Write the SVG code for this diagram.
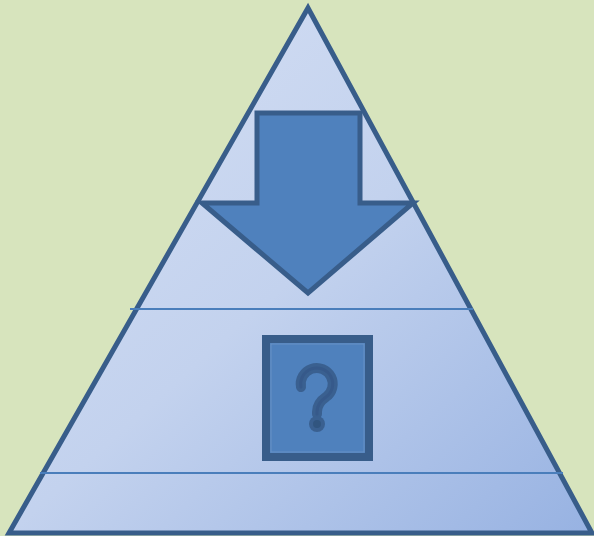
<svg xmlns="http://www.w3.org/2000/svg" width="594" height="536" viewBox="0 0 594 536">
<defs>
<linearGradient id="g" x1="0" y1="0" x2="1" y2="1" gradientUnits="objectBoundingBox">
<stop offset="0" stop-color="#D6E0F4"/>
<stop offset="0.5" stop-color="#C3D2EE"/>
<stop offset="1" stop-color="#97B2E2"/>
</linearGradient>
<style>
.edge{stroke:#385D8A;stroke-width:5;stroke-linejoin:miter}
.sep{stroke:#4A7EBB;stroke-width:2}
.shape{fill:#4F81BD;stroke:#385D8A;stroke-width:5}
</style>
</defs>
<rect width="594" height="536" fill="#D7E4BD"/>
<g id="pyramid">
<polygon class="edge" points="308,8 592,533 9,533" fill="url(#g)"/>
</g>
<g id="connectors">
<line class="sep" x1="130" y1="309" x2="473" y2="309"/>
<line class="sep" x1="40" y1="473" x2="563" y2="473"/>
</g>
<g id="arrow">
<polygon class="shape" points="257,113 360,113 360,203 413,203 308,293 202,203 257,203"/>
</g>
<g id="question">
<rect x="266" y="339" width="103" height="118" fill="#4F81BD" stroke="#385D8A" stroke-width="8"/>
<rect x="271" y="344" width="93" height="108" fill="none" stroke="#7A9FCC" stroke-width="1" opacity="0.6"/>
<path d="M301,387 A16,16 0 1 1 326,397 Q317,403 317,412 L317,414" fill="none" stroke="#3A6090" stroke-width="10" stroke-linecap="round"/>
<path d="M301,387 A16,16 0 1 1 326,397 Q317,403 317,412 L317,414" fill="none" stroke="#36598A" stroke-width="3" stroke-linecap="round"/>
<circle cx="317" cy="424" r="8" fill="#3A6090"/>
<circle cx="317" cy="424" r="4" fill="#31557F"/>
</g>
</svg>
